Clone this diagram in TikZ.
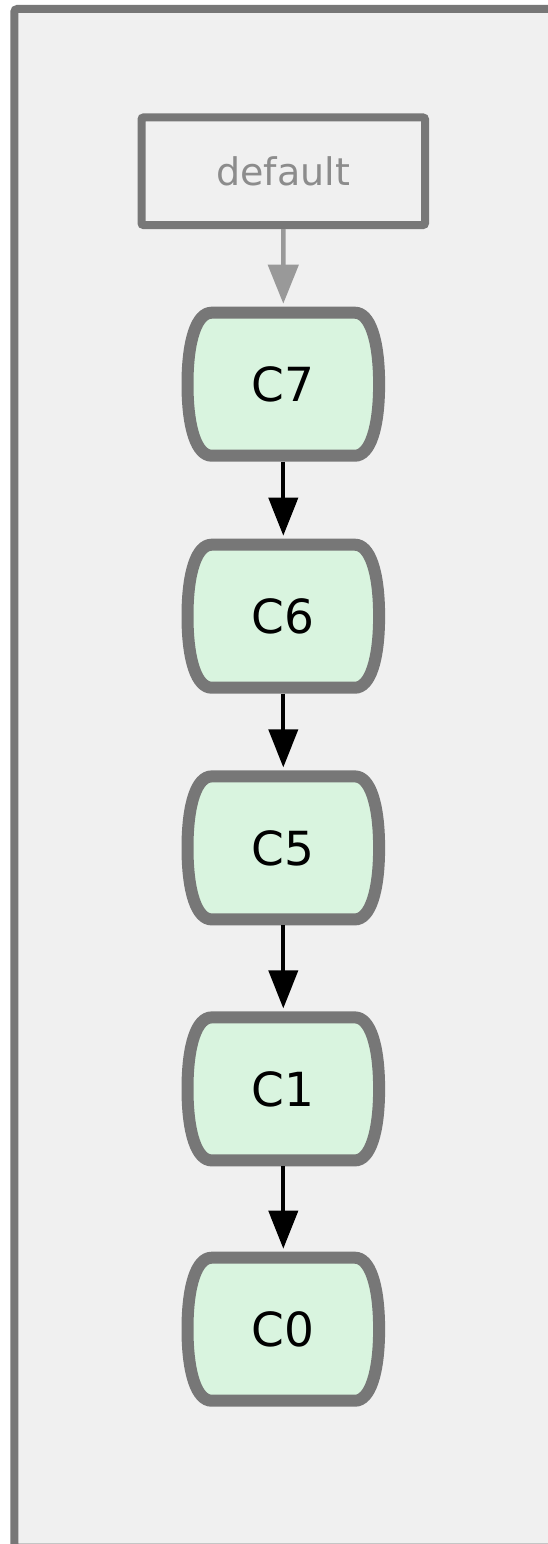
\documentclass[tikz,border=0pt]{standalone}
\usepackage{fontspec}
\setmainfont{DejaVu Sans}
\usetikzlibrary{arrows.meta}
\definecolor{frameborder}{HTML}{777777}
\definecolor{framefill}{HTML}{F0F0F0}
\definecolor{commitfill}{HTML}{D9F4DF}
\definecolor{refgrey}{HTML}{999999}
\definecolor{reftext}{HTML}{8C8C8C}
\tikzset{
  commitborder/.style={draw=frameborder, fill=commitfill, line width=12pt},
  commit/.style={rectangle, inner sep=0pt, outer sep=0pt, minimum width=203.5pt, minimum height=155pt, font=\fontsize{47}{50}\selectfont, text=black},
  refbox/.style={rectangle, draw=frameborder, line width=8pt, rounded corners=2pt, minimum width=283.5pt, minimum height=107.5pt, inner sep=0pt, font=\fontsize{38}{42}\selectfont, text=reftext},
  refarrow/.style={draw=refgrey, line width=4.5pt, -{Triangle[length=39pt,width=30pt]}, shorten >=3pt},
  commitarrow/.style={draw=black, line width=4pt, -{Triangle[length=38pt,width=29pt]}, shorten >=3pt},
  framebox/.style={fill=framefill, draw=frameborder, line width=8pt, rounded corners=3pt}
}
\newcommand\commitshape[1]{%
  \begin{scope}[shift={(283.3,#1)}]
    \path[commitborder] (-71.6,71.5) -- (71.6,71.5)
      .. controls (86.6,71.5) and (95.8,44.3) .. (95.8,0)
      .. controls (95.8,-44.3) and (86.6,-71.5) .. (71.6,-71.5)
      -- (-71.6,-71.5)
      .. controls (-86.6,-71.5) and (-95.8,-44.3) .. (-95.8,0)
      .. controls (-95.8,44.3) and (-86.6,71.5) .. (-71.6,71.5) -- cycle;
  \end{scope}}
\begin{document}
\begin{tikzpicture}[x=1pt,y=1pt]
  \useasboundingbox (0,0) rectangle (548,-1544);
  \clip (0,0) rectangle (548,-1544);
  \fill[white] (0,0) rectangle (548,-1544);
  \path[framebox] (14.3,-9) rectangle (620,-1547.6);

  \node[refbox] (default) at (283.25,-171.25) {default};

  \commitshape{-384.2}
  \node[commit] (c7) at (283.3,-384.2) {C7};
  \commitshape{-616.2}
  \node[commit] (c6) at (283.3,-616.2) {C6};
  \commitshape{-847.9}
  \node[commit] (c5) at (283.3,-847.9) {C5};
  \commitshape{-1088.9}
  \node[commit] (c1) at (283.3,-1088.9) {C1};
  \commitshape{-1329.2}
  \node[commit] (c0) at (283.3,-1329.2) {C0};

  \draw[refarrow] (default.south) -- (c7.north);
  \draw[commitarrow] (c7.south) -- (c6.north);
  \draw[commitarrow] (c6.south) -- (c5.north);
  \draw[commitarrow] (c5.south) -- (c1.north);
  \draw[commitarrow] (c1.south) -- (c0.north);
\end{tikzpicture}
\end{document}
